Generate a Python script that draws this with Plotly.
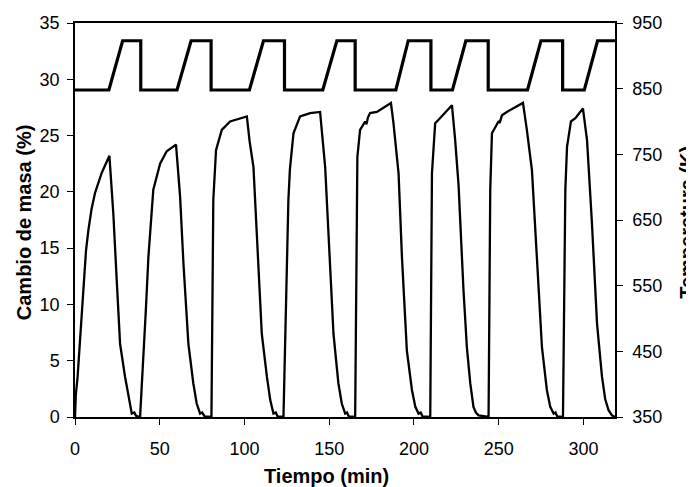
import plotly.graph_objects as go

# Mass-change curve (time in min, mass change in %)
mass_time = [
    0, 0.5, 1.5, 3, 4.9, 6.5, 7.9, 9.8, 11.8, 15.8, 20.3, 22.6, 24.6, 26.6, 29.5, 31.5, 33.5, 35, 36, 38.4,
    40.3, 41.8, 43.3, 44.7, 46.2, 50.2, 54.1, 59.6, 62, 64, 66.9, 69.8, 71.8, 73.8, 75, 76.5, 80.5,
    81.6, 83.2, 86.6, 91.5, 101.4, 103, 105.3, 107.3, 110.2, 113.2, 115.2, 117.1, 118.5, 119.5, 123,
    125.9, 126.8, 128.9, 132.8, 138.7, 144.6, 147.6, 150.5, 152.5, 155.4, 157.4, 159.4, 160.5, 161.5, 165.3,
    166.6, 168.2, 171.2, 172, 172.8, 174.1, 178.1, 186.4, 187.9, 190.9, 192.9, 195.8, 198.8, 200.8, 202.7, 204, 205, 209.6,
    210.6, 212.5, 214.5, 218.4, 222.4, 224.3, 226.3, 229.2, 231.2, 233.2, 235.1, 236.5, 238.1, 244,
    245, 246, 248.9, 250, 250.5, 251.9, 254.8, 264.3, 266.6, 269.6, 272.5, 275.5, 278.4, 280.4, 282.4, 283.5, 284.5, 287.9,
    289.3, 290.3, 292.6, 295.2, 299.7, 302.1, 305, 308, 310.9, 312.8, 314.8, 316.8, 318.6,
]
mass_change = [
    0, 2.0, 3.5, 7, 12, 14.8, 16.6, 18.5, 19.9, 21.7, 23.2, 18.1, 12.2, 6.5, 3.6, 1.8, 0.3, 0.4, 0.1, 0,
    4.75, 9.5, 14.2, 17.5, 20.2, 22.5, 23.6, 24.2, 19.6, 13.6, 6.5, 3.0, 1.2, 0.3, 0.4, 0.05, 0,
    19.3, 23.7, 25.5, 26.25, 26.7, 24.5, 22.2, 16.3, 7.4, 3.6, 1.5, 0.3, 0.4, 0.05, 0,
    19.3, 22, 25.2, 26.7, 27.0, 27.1, 22.2, 13.6, 7.4, 3.0, 1.2, 0.3, 0.4, 0.05, 0,
    23.1, 25.5, 26.25, 26.0, 26.6, 27.0, 27.1, 27.9, 26.1, 21.65, 14.2, 5.9, 2.4, 0.9, 0.3, 0.4, 0.05, 0,
    21.65, 26.1, 26.4, 27.0, 27.7, 24.6, 20.6, 11.3, 6.2, 3.0, 0.9, 0.4, 0.15, 0,
    20.2, 25.2, 26.1, 26.3, 26.1, 26.8, 27.1, 27.9, 25.5, 21.9, 14.2, 6.2, 2.4, 0.9, 0.3, 0.4, 0.05, 0,
    20.2, 24.0, 26.25, 26.55, 27.4, 24.6, 17.2, 8.3, 3.6, 1.6, 0.6, 0.15, 0,
]

# Temperature program (time in min, temperature in K)
temp_time = [
    0, 20, 28.1, 38.8, 38.8, 60.2, 68.5, 80.3, 80.3, 102.9, 111.2, 123.6, 123.6, 146.2, 154.5,
    165.3, 165.3, 189.3, 196.6, 210, 210, 222.7, 230.6, 243.8, 243.8, 267, 274.9, 287.7, 287.7,
    300.5, 308.3, 318.6,
]
temperature = [
    848, 848, 923, 923, 848, 848, 923, 923, 848, 848, 923, 923, 848, 848, 923,
    923, 848, 848, 923, 923, 848, 848, 923, 923, 848, 848, 923, 923, 848,
    848, 923, 923,
]

x_ticks = [0, 50, 100, 150, 200, 250, 300]
y_ticks = [0, 5, 10, 15, 20, 25, 30, 35]
y2_ticks = [350, 450, 550, 650, 750, 850, 950]

FONT = "Liberation Sans, Arial, sans-serif"

fig = go.Figure()
fig.add_trace(go.Scatter(x=mass_time, y=mass_change, mode="lines",
                         line=dict(color="black", width=2.3), yaxis="y", showlegend=False))
fig.add_trace(go.Scatter(x=temp_time, y=temperature, mode="lines",
                         line=dict(color="black", width=3.2), yaxis="y2", showlegend=False))

axis_common = dict(showgrid=False, zeroline=False, showline=True, linecolor="black", linewidth=1.5,
                   ticks="outside", ticklen=6, tickwidth=1, tickcolor="black", automargin=False,
                   tickfont=dict(family=FONT, size=18, color="black"))

fig.update_layout(
    width=686, height=479,
    margin=dict(l=67, r=79, t=15, b=70),
    paper_bgcolor="white", plot_bgcolor="white",
    xaxis=dict(range=[0, 318.6], tickvals=x_ticks, mirror=True, ticklabelstandoff=9, **axis_common),
    yaxis=dict(range=[0, 35], tickvals=y_ticks, ticklabelstandoff=4, **axis_common),
    yaxis2=dict(range=[350, 950], tickvals=y2_ticks, overlaying="y", side="right",
                ticklabelstandoff=6, **axis_common),
    annotations=[
        dict(text="<b>Tiempo (min)</b>", xref="paper", yref="paper", x=0.465, y=-0.15,
             xanchor="center", yanchor="middle", showarrow=False,
             font=dict(family=FONT, size=20, color="black")),
        dict(text="<b>Cambio de masa (%)</b>", xref="paper", yref="paper", x=-0.094, y=0.495,
             xanchor="center", yanchor="middle", textangle=-90, showarrow=False,
             font=dict(family=FONT, size=20, color="black")),
        dict(text="<b>Temperatura (K)</b>", xref="paper", yref="paper", x=1.133, y=0.495,
             xanchor="center", yanchor="middle", textangle=-90, showarrow=False,
             font=dict(family=FONT, size=20, color="black")),
    ],
)

fig.write_html("out.html")
